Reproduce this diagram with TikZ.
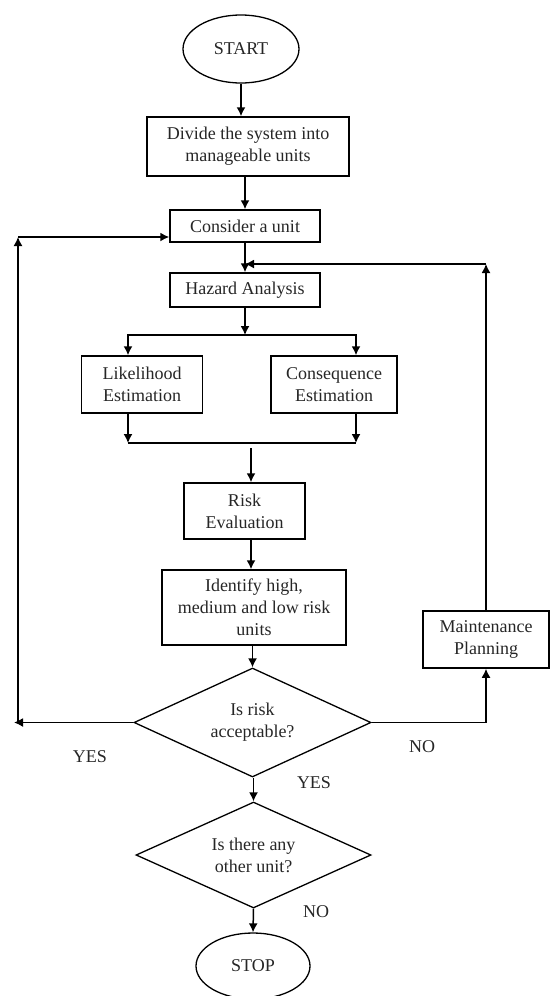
\documentclass[tikz,border=0pt]{standalone}
\usepackage{fontspec}
\setmainfont{Liberation Serif}
\usetikzlibrary{shapes.geometric,arrows.meta}
\tikzset{
  box/.style={draw, line width=1.5pt, inner sep=0pt, align=center, text=black!85},
  oval/.style={ellipse, draw, line width=1.3pt, inner sep=0pt, text=black!85},
  decision/.style={diamond, aspect=2.2, draw, line width=1.3pt, inner sep=0pt, align=center, text=black!85},
  flow/.style={line width=1.5pt, -{Latex[length=9pt,width=9pt]}},
  tag/.style={text=black!85}
}
\begin{document}
\begin{tikzpicture}[x=1pt, y=-1pt, font=\fontsize{18}{22}\selectfont]
\useasboundingbox (0,0) rectangle (551,996);

\node[oval, minimum width=116pt, minimum height=68pt] (start) at (241,49) {START};
\node[box, minimum width=202pt, minimum height=59pt] (divide) at (248,146.5) {Divide the system into\\manageable units};
\node[box, minimum width=150pt, minimum height=32pt] (consider) at (245,226) {Consider a unit};
\node[box, minimum width=150pt, minimum height=34pt] (hazard) at (245,290) {Hazard Analysis};
\node[box, minimum width=121pt, minimum height=57pt] (likely) at (142,384.5) {Likelihood\\Estimation};
\node[box, minimum width=126pt, minimum height=57pt] (conseq) at (334,384.5) {Consequence\\Estimation};
\node[box, minimum width=121pt, minimum height=56pt] (risk) at (244.5,511) {Risk\\Evaluation};
\node[box, minimum width=184pt, minimum height=75pt] (ident) at (254,607.5) {Identify high,\\medium and low risk\\units};
\node[decision, minimum width=237pt, minimum height=109pt] (accept) at (252.5,722.5) {Is risk\\acceptable?};
\node[box, minimum width=126pt, minimum height=57pt] (maint) at (486,639.5) {Maintenance\\Planning};
\node[decision, minimum width=235pt, minimum height=106pt] (other) at (253.5,855) {Is there any\\other unit?};
\node[oval, minimum width=114pt, minimum height=66pt] (stop) at (253,966) {STOP};

\node[tag] (yesL) at (90,757) {YES};
\node[tag] (noR) at (422,747) {NO};
\node[tag] (yesB) at (314,783) {YES};
\node[tag] (noB) at (316,912) {NO};

\coordinate (rtop) at (486,264);
\coordinate (split) at (245,335);
\coordinate (joinL) at (128,443);
\coordinate (joinR) at (356,443);
\coordinate (join) at (251,448);
\coordinate (lbot) at (14,722.5);
\coordinate (ltop) at (18,237);

\draw[flow] (start.south) -- (start.south |- divide.north);
\draw[flow] (consider.north |- divide.south) -- (consider.north);
\draw[flow] (consider.south) -- (hazard.north);
\draw[flow] (maint.north) -- (rtop);
\draw[flow] (rtop) -- (rtop -| hazard.north);
\draw[flow] (hazard.south) -- (split);
\draw[flow] (split) -| (joinL |- likely.north);
\draw[flow] (split) -| (joinR |- conseq.north);
\draw[flow] (joinL |- likely.south) -- (joinL);
\draw[flow] (joinR |- conseq.south) -- (joinR);
\draw[line width=1.5pt] (joinL) -- (joinR);
\draw[flow] (join) -- (join |- risk.north);
\draw[flow] (join |- risk.south) -- (join |- ident.north);
\draw[flow] (accept.north |- ident.south) -- (accept.north);
\draw[flow] (accept.west) -- (lbot);
\draw[flow] (ltop |- accept.west) -- (ltop);
\draw[flow] (ltop) -- (ltop -| consider.west);
\draw[flow] (accept.east) -| (maint.south);
\draw[flow] (other.north |- accept.south) -- (other.north);
\draw[flow] (other.south) -- (stop.north);
\end{tikzpicture}
\end{document}
